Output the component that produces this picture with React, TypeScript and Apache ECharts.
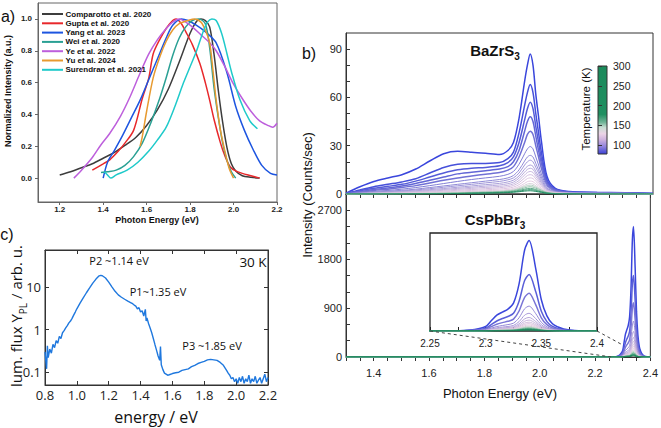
import React, { useEffect, useRef } from "react";
import * as echarts from "echarts";

const SANS = "'Liberation Sans', Arial, sans-serif";
const OPEN = "'Open Sans', 'Noto Sans', sans-serif";

// ---------- panel a : normalized PL spectra from literature ----------
const aNames = [
  "Comparotto et al. 2020",
  "Gupta et al. 2020",
  "Yang et al. 2023",
  "Wei et al. 2020",
  "Ye et al. 2022",
  "Yu et al. 2024",
  "Surendran et al. 2021",
];
const aColors = ["#3d3d3d", "#e8282b", "#1d55e0", "#2aa094", "#bd5fdc", "#e79a30", "#1fcaca"];
const comparotto = [[1.2,0.02],[1.25,0.04],[1.3,0.065],[1.35,0.09],[1.4,0.125],[1.45,0.16],[1.5,0.205],[1.55,0.255],[1.6,0.33],[1.65,0.43],[1.7,0.56],[1.75,0.73],[1.8,0.91],[1.83,0.985],[1.85,1.0],[1.87,0.99],[1.89,0.95],[1.91,0.78],[1.93,0.55],[1.95,0.35],[1.97,0.19],[1.99,0.09],[2.01,0.045],[2.04,0.015],[2.08,0.005],[2.12,0.0]];
const gupta = [[1.35,0.05],[1.4,0.09],[1.43,0.115],[1.47,0.17],[1.5,0.22],[1.54,0.3],[1.58,0.5],[1.61,0.63],[1.63,0.78],[1.66,0.87],[1.69,0.94],[1.72,0.99],[1.735,1.0],[1.76,0.97],[1.78,0.92],[1.81,0.84],[1.845,0.72],[1.87,0.6],[1.89,0.49],[1.91,0.37],[1.94,0.22],[1.96,0.14],[1.985,0.07],[2.01,0.045],[2.04,0.03],[2.08,0.015],[2.12,0.0]];
const yang = [[1.4,0.0],[1.42,0.1],[1.45,0.17],[1.49,0.27],[1.53,0.38],[1.57,0.49],[1.61,0.62],[1.65,0.75],[1.69,0.88],[1.72,0.96],[1.76,1.0],[1.79,0.99],[1.83,0.96],[1.87,0.92],[1.92,0.85],[1.97,0.66],[2.01,0.45],[2.05,0.3],[2.09,0.18],[2.13,0.08],[2.17,0.03],[2.2,0.02]];
const wei = [[1.39,0.035],[1.42,0.04],[1.46,0.05],[1.5,0.08],[1.54,0.135],[1.58,0.22],[1.62,0.35],[1.66,0.5],[1.69,0.63],[1.72,0.77],[1.75,0.88],[1.78,0.95],[1.81,0.99],[1.84,1.0],[1.87,0.97],[1.89,0.82],[1.91,0.57],[1.93,0.38],[1.95,0.22],[1.97,0.11],[1.99,0.04],[2.01,0.0]];
const ye = [[1.265,0.0],[1.3,0.05],[1.35,0.13],[1.39,0.21],[1.43,0.28],[1.48,0.39],[1.52,0.5],[1.57,0.66],[1.61,0.78],[1.65,0.87],[1.69,0.94],[1.72,0.98],[1.75,1.0],[1.78,0.98],[1.81,0.95],[1.85,0.9],[1.89,0.85],[1.92,0.8],[1.96,0.7],[2.0,0.59],[2.04,0.5],[2.08,0.42],[2.12,0.36],[2.16,0.33],[2.18,0.32],[2.2,0.345]];
const yu = [[1.57,0.2],[1.58,0.26],[1.6,0.42],[1.63,0.63],[1.66,0.76],[1.69,0.86],[1.72,0.93],[1.75,0.97],[1.79,0.99],[1.82,1.0],[1.85,0.98],[1.87,0.93],[1.89,0.85],[1.905,0.68],[1.92,0.49],[1.94,0.3],[1.96,0.17],[1.98,0.06],[2.0,0.0]];
const surendran = [[1.405,0.04],[1.42,0.02],[1.435,0.0],[1.46,0.02],[1.51,0.05],[1.56,0.1],[1.61,0.17],[1.65,0.24],[1.69,0.32],[1.73,0.45],[1.77,0.6],[1.8,0.7],[1.83,0.8],[1.86,0.92],[1.88,0.98],[1.9,1.0],[1.92,0.99],[1.945,0.91],[1.97,0.78],[1.99,0.67],[2.03,0.49],[2.075,0.36],[2.11,0.31]];
const aData = [comparotto, gupta, yang, wei, ye, yu, surendran];
const aXTicks = [1.2, 1.4, 1.6, 1.8, 2.0, 2.2];
const aYTicks = [0, 0.2, 0.4, 0.6, 0.8, 1.0];

// ---------- panel b : BaZrS3 temperature series ----------
const bzE = [1.30,1.35,1.40,1.45,1.50,1.55,1.60,1.65,1.70,1.75,1.80,1.85,1.88,1.90,1.92,1.94,1.95,1.96,1.97,1.98,1.99,2.00,2.02,2.05,2.10,2.20,2.30,2.40];
const bzCurves = [
  [0.5,4.5,7.8,10,12,15.5,20.5,25,26.5,26,25.3,24.5,27,32,47,70,80,87,80,62,48,33,11,3.5,1.5,1,0.8,0.3],
  [0.3,2.5,4.5,6,7.5,9.5,13,16.5,18.5,19,19,19.5,22,26,38,55,63,68,63,50,38,26,9,3,1.3,0.9,0.7,0.3],
  [0.2,2,3.5,4.8,6,8,10.5,13,15,16,16.5,17.5,19.5,23,32,46,53,57,53,42,32,22,8,2.8,1.2,0.8,0.6,0.3],
  [0.2,1.5,2.8,3.8,5,6.5,8.5,10.5,12.5,13.5,14.5,15.5,17,20,27,39,45,48,45,36,27,19,7,2.5,1,0.7,0.5,0.2],
  [0.1,1.2,2.2,3,4,5.2,6.8,8.5,10,11.2,12.3,13.3,14.8,17,23,32,37,39,37,30,23,16,6,2.2,0.9,0.6,0.5,0.2],
  [0.1,0.9,1.6,2.2,3,4,5.2,6.5,7.8,9,10,11,12.2,14,18.5,25,28,29.5,28,23,18,12.5,5,1.8,0.8,0.5,0.4,0.2],
  [0.1,0.7,1.2,1.7,2.3,3,4,5,6,7,8,9,10,11.5,15,20.5,23,24,23,19,15,10.5,4,1.5,0.7,0.5,0.4,0.2],
  [0.1,0.5,1,1.4,1.9,2.5,3.3,4.2,5.1,6,6.9,7.8,8.8,10,13,18,20,21,20,16.5,13,9,3.5,1.3,0.6,0.4,0.3,0.2],
  [0,0.4,0.8,1.1,1.5,2,2.7,3.4,4.2,5,5.8,6.6,7.5,8.6,11.2,15.5,17.2,18,17.2,14,11,7.8,3,1.1,0.5,0.4,0.3,0.1],
  [0,0.3,0.6,0.9,1.2,1.6,2.2,2.8,3.5,4.2,4.9,5.6,6.4,7.4,9.8,13.6,15.3,16,15.3,12.5,9.8,7,2.7,1,0.5,0.3,0.3,0.1],
  [0,0.2,0.5,0.7,1,1.3,1.8,2.3,2.9,3.5,4.1,4.7,5.4,6.3,8.4,11.8,13.4,14,13.4,11,8.6,6.1,2.4,0.9,0.4,0.3,0.2,0.1],
  [0,0.2,0.4,0.6,0.8,1.1,1.4,1.8,2.3,2.8,3.3,3.9,4.5,5.3,7.1,10,11.5,12,11.5,9.4,7.4,5.2,2,0.8,0.4,0.3,0.2,0.1],
  [0,0.1,0.3,0.4,0.6,0.8,1.1,1.4,1.8,2.2,2.6,3.1,3.6,4.3,5.8,8.3,9.6,10,9.6,7.8,6.2,4.4,1.7,0.7,0.3,0.2,0.2,0.1],
  [0,0.1,0.2,0.3,0.4,0.6,0.8,1,1.3,1.6,2,2.4,2.8,3.4,4.6,6.6,7.7,8,7.7,6.3,5,3.5,1.4,0.6,0.3,0.2,0.1,0],
  [0,0.1,0.1,0.2,0.3,0.4,0.6,0.8,1,1.3,1.6,1.9,2.3,2.8,3.8,5.4,6.2,6.5,6.2,5.1,4,2.9,1.2,0.5,0.2,0.1,0.1,0],
  [0,0,0.1,0.1,0.2,0.3,0.4,0.6,0.8,1,1.3,1.6,2,2.4,3.3,4.6,5.2,5.5,5.2,4.3,3.4,2.5,1,0.4,0.2,0.1,0.1,0],
  [0,0,0.1,0.1,0.1,0.2,0.3,0.4,0.6,0.8,1.1,1.4,1.7,2.1,2.8,3.8,4.3,4.5,4.3,3.6,2.9,2.1,0.9,0.3,0.1,0.1,0,0],
  [0,0,0,0.1,0.1,0.1,0.2,0.3,0.4,0.6,0.8,1.1,1.4,1.7,2.3,3,3.4,3.5,3.3,2.8,2.2,1.6,0.7,0.2,0.1,0.1,0,0],
  [0,0,0,0,0.1,0.1,0.2,0.2,0.3,0.5,0.7,0.9,1.1,1.4,1.8,2.4,2.6,2.7,2.6,2.2,1.7,1.3,0.5,0.2,0.1,0,0,0],
  [0,0,0,0,0,0.1,0.1,0.2,0.3,0.4,0.5,0.7,0.9,1.1,1.4,1.8,1.95,2,1.9,1.6,1.3,1,0.4,0.1,0.1,0,0,0],
];
const bzColors = ["#3a46dc","#4650da","#545bd8","#6266d6","#7171d5","#807dd5","#8f89d6","#9e95d8","#aca1da","#baacdc","#c7b6de","#d3bedf","#ddc5e0","#e3cbe1","#d7d0d9","#b8cfc3","#8fc0a8","#62ab8a","#3d9a74","#228c62"];
const bzYLabels = [0, 30, 60, 90];
const bzYTicks = [0, 10, 20, 30, 40, 50, 60, 70, 80, 90];

// ---------- panel b : CsPbBr3 temperature series ----------
const cpE = [1.30,2.25,2.27,2.28,2.29,2.30,2.305,2.31,2.315,2.32,2.325,2.33,2.335,2.339,2.345,2.35,2.355,2.36,2.365,2.37,2.38,2.40];
const cpCurves = [
  [0,0,5,12,40,120,270,420,500,580,740,1250,2150,2400,1650,830,400,190,105,55,12,2],
  [0,0,3,8,25,75,170,265,330,385,470,790,1340,1500,1040,525,250,120,65,34,8,1],
  [0,0,2,5,17,50,115,180,222,258,315,530,895,1000,695,350,168,80,44,23,5,1],
  [0,0,1,4,11,33,76,118,146,170,208,350,590,660,459,231,111,53,29,15,3,0],
  [0,0,1,3,8,24,54,84,104,121,148,249,420,470,327,165,79,38,21,11,2,0],
  [0,0,1,2,6,18,41,64,80,93,113,191,322,360,250,126,60,29,16,8,2,0],
  [0,0,0,2,5,15,33,52,64,75,91,154,259,290,202,101,49,23,13,7,1,0],
  [0,0,0,1,4,12,27,42,52,61,74,125,210,235,164,82,40,19,10,5,1,0],
  [0,0,0,1,3,10,22,35,43,50,61,104,175,195,136,68,33,16,9,4,1,0],
  [0,0,0,1,3,8,18,28,35,41,50,85,143,160,111,56,27,13,7,4,1,0],
  [0,0,0,1,2,7,15,23,29,34,41,69,116,130,91,46,22,10,6,3,1,0],
  [0,0,0,0,2,5,12,18,23,27,33,56,94,105,73,37,18,8,5,2,0,0],
  [0,0,0,0,2,4,10,15,19,22,27,45,76,85,59,30,14,7,4,2,0,0],
  [0,0,0,0,1,4,8,12,15,18,22,37,63,70,49,25,12,6,3,2,0,0],
  [0,0,0,0,1,3,6,10,12,14,17,29,49,55,38,19,9,4,2,1,0,0],
  [0,0,0,0,1,2,5,8,10,11,14,24,40,45,31,16,8,4,2,1,0,0],
  [0,0,0,0,1,2,4,6,8,9,11,19,31,35,24,12,6,3,2,1,0,0],
  [0,0,0,0,0,1,3,4,5,6,8,13,22,25,17,9,4,2,1,0,0,0],
];
const cpColors = ["#3a46dc","#5a5fd8","#7a75d6","#9488d6","#a898d8","#b8a6da","#c6b3dc","#d2bddd","#dcc5df","#e2cbe0","#d4cfd8","#b5cdc0","#8cbfa6","#66ae8e","#45a07a","#2e946a","#21895f","#1b8358"];
const cpYLabels = [0, 900, 1800, 2700];
const cpYTicks = [0, 300, 600, 900, 1200, 1500, 1800, 2100, 2400, 2700];
const bXLabels = [1.4, 1.6, 1.8, 2.0, 2.2, 2.4];
const bXTicks = [1.3,1.35,1.4,1.45,1.5,1.55,1.6,1.65,1.7,1.75,1.8,1.85,1.9,1.95,2.0,2.05,2.1,2.15,2.2,2.25,2.3,2.35,2.4];
const insetXLabels = [2.25, 2.3, 2.35, 2.4];
const insetXTicks = [2.25, 2.275, 2.3, 2.325, 2.35, 2.375, 2.4];
const zoomLinkStart = [[2.25, 0], [2.4, 0]];
const zoomLinkEnd = [[2.26, 0], [2.295, 235]];

// ---------- colour bar ----------
const tempMin = 78;
const tempMax = 300;
const tempTicks = [100, 150, 200, 250, 300];

// ---------- panel c : 30 K PL on log scale ----------
const cE = [0.80,0.81,0.815,0.82,0.83,0.84,0.85,0.86,0.87,0.88,0.89,0.90,0.91,0.92,0.93,0.94,0.95,0.96,0.97,0.98,0.99,1.00,1.02,1.04,1.06,1.08,1.10,1.12,1.14,1.15,1.16,1.18,1.20,1.22,1.24,1.26,1.28,1.30,1.32,1.34,1.35,1.36,1.37,1.38,1.39,1.40,1.41,1.42,1.43,1.435,1.44,1.45,1.46,1.47,1.48,1.49,1.50,1.51,1.52,1.525,1.53,1.54,1.55,1.56,1.57,1.58,1.60,1.62,1.64,1.66,1.68,1.70,1.72,1.74,1.76,1.78,1.80,1.82,1.84,1.86,1.88,1.90,1.92,1.94,1.95,1.96,1.97,1.98,1.99,2.00,2.01,2.02,2.03,2.04,2.05,2.06,2.07,2.08,2.09,2.10,2.11,2.12,2.13,2.14,2.15,2.16,2.17,2.18,2.19,2.20];
const cY = [0.30,0.12,0.42,0.22,0.35,0.28,0.45,0.38,0.55,0.48,0.70,0.62,0.85,0.95,1.10,1.25,1.45,1.60,1.85,2.2,2.6,3.1,4.2,5.6,7.4,9.6,12.5,15.5,18.5,19.0,18.6,16.5,13.2,10.2,8.0,6.6,5.8,5.2,4.7,4.3,4.1,3.8,3.6,3.1,3.3,2.6,2.8,2.1,3.0,1.6,1.9,1.4,1.1,0.85,0.62,0.45,0.33,0.24,0.19,0.40,0.15,0.115,0.095,0.09,0.085,0.087,0.093,0.097,0.10,0.11,0.115,0.12,0.135,0.145,0.16,0.17,0.18,0.195,0.20,0.195,0.19,0.17,0.145,0.11,0.095,0.085,0.07,0.075,0.06,0.07,0.055,0.075,0.06,0.08,0.055,0.07,0.06,0.085,0.055,0.07,0.06,0.08,0.055,0.065,0.075,0.055,0.07,0.09,0.06,0.075];
const cXTicks = [0.8, 1.0, 1.2, 1.4, 1.6, 1.8, 2.0, 2.2];

const fmt1 = (v: number) => (+v).toFixed(1);
const fmtInt = (v: number) => String(Math.round(+v));

export default function App() {
  const ref = useRef<HTMLDivElement>(null);
  useEffect(() => {
    if (!ref.current) return;
    const chart = echarts.init(ref.current, undefined, { renderer: "svg" });

    const aSeries = aNames.map((n, i) => ({
      name: n, type: "line", xAxisIndex: 0, yAxisIndex: 0, data: aData[i],
      showSymbol: false, smooth: 0.3, silent: true,
      lineStyle: { color: aColors[i], width: 1.5 }, itemStyle: { color: aColors[i] },
    }));
    const bzSeries = bzCurves.map((vals, i) => ({
      type: "line", xAxisIndex: 3, yAxisIndex: 3, showSymbol: false, smooth: 0.3, silent: true,
      data: vals.map((v, j) => [bzE[j], v]),
      lineStyle: { color: bzColors[i], width: i < 5 ? 1.5 : 1 },
    }));
    const cpSeries = cpCurves.map((vals, i) => ({
      type: "line", xAxisIndex: 4, yAxisIndex: 4, showSymbol: false, smooth: 0.3, silent: true,
      data: vals.map((v, j) => [cpE[j], v]),
      lineStyle: { color: cpColors[i], width: i < 3 ? 1.5 : 1 },
    }));
    const insetSeries = cpCurves.map((vals, i) => ({
      type: "line", xAxisIndex: 6, yAxisIndex: 5, showSymbol: false, smooth: 0.3, silent: true,
      data: vals.map((v, j) => [cpE[j], v]),
      lineStyle: { color: cpColors[i], width: i < 3 ? 1.5 : 1 },
    }));
    const cSeries = {
      type: "line", xAxisIndex: 1, yAxisIndex: 1, showSymbol: false, silent: true,
      data: cE.map((e, j) => [e, cY[j]]),
      lineStyle: { color: "#1f78de", width: 1.4 },
    };

    const lbl = (extra: any) => ({ color: "#222", fontFamily: SANS, fontSize: 11, ...extra });
    const axLine = (c = "#333") => ({ show: true, onZero: false, lineStyle: { color: c, width: 1 } });

    const option: any = {
      animation: false,
      backgroundColor: "#fff",
      grid: [
        { left: 38, top: 3, width: 239, height: 199, show: true, borderColor: "#666", borderWidth: 1, backgroundColor: "transparent" },
        { left: 45, top: 250, width: 223, height: 135, show: true, borderColor: "#333", borderWidth: 1, backgroundColor: "transparent" },
        { left: 346, top: 33, width: 307, height: 161, show: true, borderColor: "#333", borderWidth: 1, backgroundColor: "transparent" },
        { left: 346, top: 194, width: 307, height: 163, show: true, borderColor: "#333", borderWidth: 1, backgroundColor: "transparent" },
        { left: 430, top: 233, width: 167, height: 98, show: true, borderColor: "#222", borderWidth: 1.3, backgroundColor: "#fff" },
        {
          left: 598, top: 66, width: 9, height: 88, show: true, borderColor: "#333", borderWidth: 1,
          backgroundColor: new echarts.graphic.LinearGradient(0, 0, 0, 1, [
            { offset: 0, color: "#1b8a5b" },
            { offset: 0.55, color: "#1f8f60" },
            { offset: 0.64, color: "#6fb396" },
            { offset: 0.7, color: "#c9ddd3" },
            { offset: 0.77, color: "#ecd4e6" },
            { offset: 0.84, color: "#cdb0de" },
            { offset: 0.92, color: "#8c80dc" },
            { offset: 1, color: "#3a40d6" },
          ]),
        },
      ],
      xAxis: [
        { gridIndex: 0, type: "value", min: 1.1, max: 2.2, axisLine: axLine("#666"), splitLine: { show: false },
          axisTick: { show: true, length: 3, customValues: aXTicks, lineStyle: { color: "#666" } },
          axisLabel: lbl({ customValues: aXTicks, formatter: fmt1, fontSize: 8, fontWeight: "bold", margin: 3 }) },
        { gridIndex: 1, type: "value", min: 0.8, max: 2.2, axisLine: axLine(), splitLine: { show: false },
          axisTick: { show: true, inside: true, length: 4, customValues: cXTicks },
          axisLabel: lbl({ customValues: cXTicks, formatter: fmt1, fontSize: 13, fontFamily: OPEN, margin: 3 }) },
        { gridIndex: 1, type: "value", position: "top", min: 0.8, max: 2.2, axisLine: axLine(), splitLine: { show: false },
          axisTick: { show: true, inside: true, length: 4, customValues: cXTicks }, axisLabel: { show: false } },
        { gridIndex: 2, type: "value", min: 1.3, max: 2.4, axisLine: axLine(), splitLine: { show: false },
          axisTick: { show: false }, axisLabel: { show: false } },
        { gridIndex: 3, type: "value", min: 1.3, max: 2.4, axisLine: axLine(), splitLine: { show: false },
          axisTick: { show: true, length: 4, customValues: bXTicks },
          axisLabel: lbl({ customValues: bXLabels, formatter: fmt1, margin: 10 }) },
        { gridIndex: 3, type: "value", position: "top", min: 1.3, max: 2.4, axisLine: axLine(), splitLine: { show: false },
          axisTick: { show: true, inside: true, length: 4, customValues: bXTicks }, axisLabel: { show: false } },
        { gridIndex: 4, type: "value", min: 2.25, max: 2.4, axisLine: { show: false }, splitLine: { show: false },
          axisTick: { show: true, inside: true, length: 4, customValues: insetXTicks, lineStyle: { color: "#222" } },
          axisLabel: lbl({ customValues: insetXLabels, formatter: (v: number) => String(+(+v).toFixed(2)), fontSize: 10, margin: 7 }) },
        { gridIndex: 5, type: "value", min: 0, max: 1, show: false },
      ],
      yAxis: [
        { gridIndex: 0, type: "value", min: -0.15, max: 1.1, axisLine: axLine("#666"), splitLine: { show: false },
          axisTick: { show: true, length: 3, customValues: aYTicks, lineStyle: { color: "#666" } },
          axisLabel: lbl({ customValues: aYTicks, formatter: fmt1, fontSize: 8, fontWeight: "bold", margin: 6 }) },
        { gridIndex: 1, type: "log", logBase: 10, min: 0.05, max: 75, axisLine: axLine(), splitLine: { show: false },
          axisTick: { show: true, inside: true, length: 4 },
          axisLabel: lbl({ fontSize: 13, fontFamily: OPEN, margin: 4, showMinLabel: false, showMaxLabel: false,
            formatter: (v: number) => (v >= 1 ? String(Math.round(v)) : String(+(+v).toFixed(2))) }) },
        { gridIndex: 1, type: "log", logBase: 10, position: "right", min: 0.05, max: 75, axisLine: axLine(), splitLine: { show: false },
          axisTick: { show: true, inside: true, length: 4 }, axisLabel: { show: false } },
        { gridIndex: 2, type: "value", min: 0, max: 100, axisLine: axLine(), splitLine: { show: false },
          axisTick: { show: true, inside: true, length: 4, customValues: bzYTicks },
          axisLabel: lbl({ customValues: bzYLabels, formatter: fmtInt, margin: 4 }) },
        { gridIndex: 3, type: "value", min: 0, max: 3000, axisLine: axLine(), splitLine: { show: false },
          axisTick: { show: true, inside: true, length: 4, customValues: cpYTicks },
          axisLabel: lbl({ customValues: cpYLabels, formatter: fmtInt, margin: 4 }) },
        { gridIndex: 4, type: "value", min: 0, max: 2600, show: false },
        { gridIndex: 5, type: "value", position: "right", min: tempMin, max: tempMax, axisLine: { show: false }, splitLine: { show: false },
          axisTick: { show: true, length: 4, customValues: tempTicks, lineStyle: { color: "#333" } },
          axisLabel: lbl({ customValues: tempTicks, formatter: fmtInt, margin: 6, fontSize: 10.5 }) },
      ],
      series: [...aSeries, cSeries, ...bzSeries, ...cpSeries, ...insetSeries],
    };
    chart.setOption(option);

    const txt = (text: string, x: number, y: number, o: any = {}) => ({
      type: "text", x, y, rotation: o.rot || 0, silent: true, z: 100,
      style: {
        text, fontSize: o.size || 12, fontFamily: o.font || SANS, fontWeight: o.bold ? "bold" : "normal",
        fill: o.fill || "#111", align: o.align || "center", verticalAlign: "middle", rich: o.rich,
      },
    });
    const p = (f: any, v: number[]) => chart.convertToPixel(f, v) as number[];
    const links = zoomLinkStart.map((s, i) => {
      const a = p({ xAxisIndex: 6, yAxisIndex: 5 }, s);
      const b = p({ xAxisIndex: 4, yAxisIndex: 4 }, zoomLinkEnd[i]);
      return {
        type: "line", silent: true, z: 90,
        shape: { x1: a[0], y1: a[1], x2: b[0], y2: b[1] },
        style: { stroke: "#444", lineWidth: 1, lineDash: [3, 3] },
      };
    });
    // legend of panel a (line sample + name per row)
    const legendEls: any[] = [];
    aNames.forEach((n, i) => {
      const cy = 14 + i * 9.3;
      legendEls.push({ type: "rect", silent: true, z: 100, shape: { x: 42, y: cy - 1, width: 21, height: 2 }, style: { fill: aColors[i] } });
      legendEls.push(txt(n, 65.5, cy, { size: 8, bold: true, align: "left" }));
    });
    const R90 = Math.PI / 2;
    chart.setOption({
      graphic: {
        elements: [
          ...legendEls,
          txt("a)", 8, 16, { size: 16 }),
          txt("b)", 309, 53, { size: 16 }),
          txt("c)", 7, 234, { size: 16 }),
          txt("Normalized Intensity (a.u.)", 8, 91, { rot: R90, bold: true, size: 9 }),
          txt("Photon Energy (eV)", 157, 220, { bold: true, size: 9 }),
          txt("Intensity (Counts/sec)", 307, 195, { rot: R90, size: 13 }),
          txt("Photon Energy (eV)", 500, 393, { size: 13 }),
          txt("Temperature (K)", 586, 109, { rot: R90, size: 11.5 }),
          txt("{m|BaZrS}{s|3}", 495, 50, { rich: {
            m: { fontSize: 15, fontWeight: "bold", fontFamily: SANS, lineHeight: 22, verticalAlign: "middle" },
            s: { fontSize: 10, fontWeight: "bold", fontFamily: SANS, lineHeight: 22, verticalAlign: "bottom" } } }),
          txt("{m|CsPbBr}{s|3}", 495, 219, { rich: {
            m: { fontSize: 15, fontWeight: "bold", fontFamily: SANS, lineHeight: 22, verticalAlign: "middle" },
            s: { fontSize: 10, fontWeight: "bold", fontFamily: SANS, lineHeight: 22, verticalAlign: "bottom" } } }),
          txt("{m|lum. flux Y}{s|PL}{m| / arb. u.}", 16, 316, { rot: R90, rich: {
            m: { fontSize: 15, fontFamily: OPEN, lineHeight: 24, verticalAlign: "middle" },
            s: { fontSize: 10, fontFamily: OPEN, lineHeight: 24, verticalAlign: "bottom" } } }),
          txt("energy / eV", 156, 417, { size: 16, font: OPEN }),
          txt("P2 ~1.14 eV", 119, 260, { size: 11, font: OPEN }),
          txt("P1~1.35 eV", 158, 291, { size: 11, font: OPEN }),
          txt("P3 ~1.85 eV", 212, 345, { size: 11, font: OPEN }),
          txt("30 K", 253, 262, { size: 13.5, font: OPEN }),
          ...links,
        ],
      },
    });
    return () => chart.dispose();
  }, []);
  return <div ref={ref} style={{ position: "fixed", left: 0, top: 0, width: 661, height: 428 }} />;
}
